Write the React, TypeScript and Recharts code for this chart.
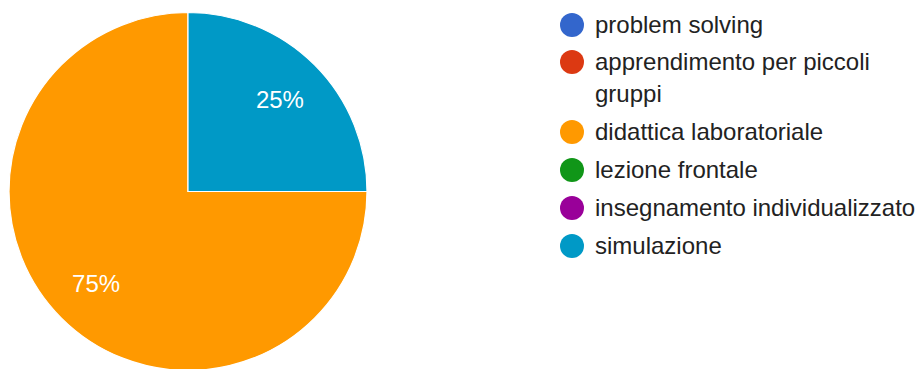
import React from 'react';
import { PieChart, Pie, Cell, Legend } from 'recharts';

const categories = [
  'problem solving',
  'apprendimento per piccoli gruppi',
  'didattica laboratoriale',
  'lezione frontale',
  'insegnamento individualizzato',
  'simulazione',
];
const counts = [0, 0, 3, 0, 0, 1];
const colors = ['#3366cc', '#dc3912', '#ff9900', '#109618', '#990099', '#0099c6'];

const data = categories.map((name, i) => ({ name, value: counts[i] }));

const FONT = '"Liberation Sans", Arial, sans-serif';
const RADIAN = Math.PI / 180;

const renderLabel = (props: any) => {
  const { cx, cy, midAngle, percent, value } = props;
  if (!value) return null;
  const r = 130;
  const x = cx + r * Math.cos(-midAngle * RADIAN);
  const y = cy + r * Math.sin(-midAngle * RADIAN);
  return (
    <text
      x={x}
      y={y}
      fill="#ffffff"
      textAnchor="middle"
      dominantBaseline="central"
      fontFamily={FONT}
      fontSize={24}
    >
      {`${Math.round(percent * 100)}%`}
    </text>
  );
};

function LegendList() {
  return (
    <div style={{ fontFamily: FONT, fontSize: 24, color: '#222222' }}>
      {categories.map((name, i) => (
        <div key={name} style={{ display: 'flex', alignItems: 'flex-start', lineHeight: '32px', marginBottom: 5.8 }}>
          <span
            style={{
              width: 24,
              height: 24,
              borderRadius: 12,
              background: colors[i],
              marginTop: 4,
              marginRight: 11,
              flex: '0 0 auto',
            }}
          />
          <span style={{ width: 323, whiteSpace: 'normal' }}>{name}</span>
        </div>
      ))}
    </div>
  );
}

export default function App() {
  return (
    <div style={{ position: 'absolute', left: 0, top: 0, width: 918, height: 369, background: '#ffffff' }}>
      <PieChart width={918} height={369} margin={{ top: 0, right: 0, bottom: 0, left: 0 }}>
        <Pie
          data={data}
          dataKey="value"
          nameKey="name"
          cx={188}
          cy={191.5}
          outerRadius={179}
          startAngle={90}
          endAngle={450}
          stroke="#ffffff"
          strokeWidth={1.2}
          labelLine={false}
          label={renderLabel}
          isAnimationActive={false}
        >
          {data.map((d, i) => (
            <Cell key={d.name} fill={colors[i]} />
          ))}
        </Pie>
        <Legend
          content={() => <LegendList />}
          wrapperStyle={{ left: 560, top: 8.7, width: 358 }}
        />
      </PieChart>
    </div>
  );
}
